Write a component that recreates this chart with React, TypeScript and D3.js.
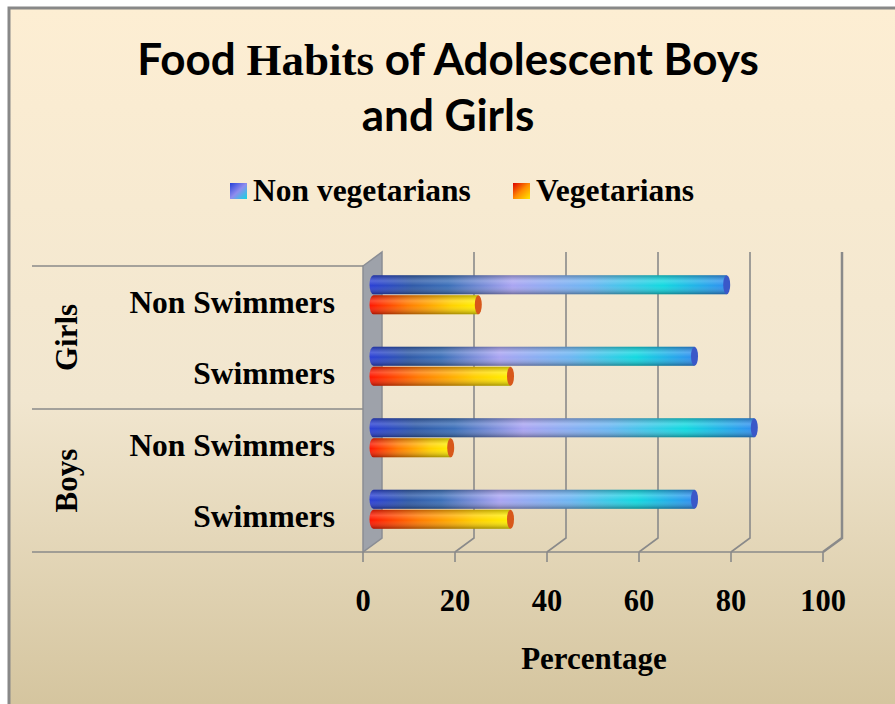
import React, { useEffect, useRef } from 'react';
import * as d3 from 'd3';

const categoryLabels = ['Non Swimmers', 'Swimmers', 'Non Swimmers', 'Swimmers'];
const groupLabels = ['Girls', 'Boys'];
const nonVegetarians = [77, 70, 83, 70];
const vegetarians = [23, 30, 17, 30];
const xTicks = [0, 20, 40, 60, 80, 100];
const seriesNames = ['Non vegetarians', 'Vegetarians'];

const W = 895;
const H = 704;

const App = () => {
  const ref = useRef<SVGSVGElement>(null);

  useEffect(() => {
    if (!ref.current) return;
    const svg = d3.select(ref.current);
    svg.selectAll('*').remove();

    const serif = '"Liberation Serif", "Times New Roman", serif';
    const sans = 'Lato, "Open Sans", sans-serif';
    const gridColor = '#8a8a8a';

    const defs = svg.append('defs');
    const bg = defs.append('linearGradient').attr('id', 'bg').attr('x1', 0).attr('y1', 0).attr('x2', 0).attr('y2', 1);
    bg.append('stop').attr('offset', '0%').attr('stop-color', '#fdeed3');
    bg.append('stop').attr('offset', '55%').attr('stop-color', '#f1e6cf');
    bg.append('stop').attr('offset', '100%').attr('stop-color', '#d3c39c');

    const addGrad = (id: string, stops: [number, string][], x2 = 1, y2 = 0) => {
      const g = defs.append('linearGradient').attr('id', id)
        .attr('x1', 0).attr('y1', 0).attr('x2', x2).attr('y2', y2);
      stops.forEach(([o, c]) => g.append('stop').attr('offset', `${o}%`).attr('stop-color', c));
    };
    addGrad('blueBar', [[0, '#2a3fd6'], [12, '#2f5aa8'], [22, '#3b6fb8'], [40, '#a9a4f2'], [62, '#6cb6f2'], [82, '#12d9e0'], [100, '#2f8ef0']]);
    addGrad('redBar', [[0, '#ff1500'], [35, '#ff7a00'], [75, '#ffd000'], [100, '#fff000']]);
    addGrad('blueKey', [[0, '#2540d8'], [50, '#8f8cee'], [100, '#10d6e0']], 1, 1);
    addGrad('redKey', [[0, '#dd0000'], [50, '#ff8a00'], [100, '#ffe800']], 1, 1);

    const shade = defs.append('linearGradient').attr('id', 'shade').attr('x1', 0).attr('y1', 0).attr('x2', 0).attr('y2', 1);
    shade.append('stop').attr('offset', '0%').attr('stop-color', '#000').attr('stop-opacity', 0.25);
    shade.append('stop').attr('offset', '30%').attr('stop-color', '#fff').attr('stop-opacity', 0.2);
    shade.append('stop').attr('offset', '55%').attr('stop-color', '#fff').attr('stop-opacity', 0);
    shade.append('stop').attr('offset', '100%').attr('stop-color', '#000').attr('stop-opacity', 0.35);

    // background and frame
    svg.append('rect').attr('width', W).attr('height', H).attr('fill', '#fff');
    svg.append('rect').attr('x', 9).attr('y', 8).attr('width', W + 10).attr('height', H + 10)
      .attr('fill', 'url(#bg)').attr('stroke', '#888').attr('stroke-width', 3);

    // title
    const title = svg.append('text').attr('text-anchor', 'middle').attr('font-family', sans)
      .attr('font-weight', 700).attr('font-size', 44).attr('fill', '#000');
    const line1 = title.append('tspan').attr('x', 448).attr('y', 75);
    line1.append('tspan').text('Food ');
    line1.append('tspan').attr('font-family', serif).attr('font-size', 45).text('Habits');
    line1.append('tspan').text(' of Adolescent Boys');
    title.append('tspan').attr('x', 448).attr('y', 131).text('and Girls');

    // legend
    const legend = [
      { x: 230, fill: 'url(#blueKey)', label: seriesNames[0] },
      { x: 513, fill: 'url(#redKey)', label: seriesNames[1] },
    ];
    legend.forEach(l => {
      svg.append('rect').attr('x', l.x).attr('y', 183).attr('width', 17).attr('height', 16).attr('fill', l.fill);
      svg.append('text').attr('x', l.x + 23).attr('y', 201).attr('font-family', serif).attr('font-weight', 700)
        .attr('font-size', 31.5).text(l.label);
    });

    // scales
    const x = d3.scaleLinear().domain([0, 100]).range([363, 823]);
    const y = d3.scaleBand<number>().domain(d3.range(categoryLabels.length)).range([266, 552]);
    const depth = { dx: 19, dy: -14 };
    const yTop = y.range()[0];
    const yBot = y.range()[1];

    // side wall
    svg.append('path')
      .attr('d', `M${x(0)},${yTop}L${x(0) + depth.dx},${yTop + depth.dy}L${x(0) + depth.dx},${yBot + depth.dy}L${x(0)},${yBot}Z`)
      .attr('fill', '#9ea2aa').attr('stroke', '#8a8d94').attr('stroke-width', 1.5);

    // back gridlines, floor links, ticks
    xTicks.forEach(t => {
      const bx = x(t) + depth.dx;
      if (t > 0) {
        svg.append('path')
          .attr('d', `M${bx},${yTop + depth.dy}L${bx},${yBot + depth.dy}L${x(t)},${yBot}`)
          .attr('fill', 'none').attr('stroke', gridColor).attr('stroke-width', t === 100 ? 2.5 : 1.6);
      }
      svg.append('line').attr('x1', x(t)).attr('x2', x(t)).attr('y1', yBot).attr('y2', yBot + 10)
        .attr('stroke', gridColor).attr('stroke-width', 1.6);
      svg.append('text').attr('x', x(t)).attr('y', 611).attr('text-anchor', 'middle')
        .attr('font-family', serif).attr('font-weight', 700).attr('font-size', 30.5).text(t);
    });
    svg.append('line').attr('x1', x(0)).attr('x2', x(100)).attr('y1', yBot).attr('y2', yBot)
      .attr('stroke', gridColor).attr('stroke-width', 1.6);

    // category and group dividers
    [yTop, (yTop + yBot) / 2, yBot].forEach(v => {
      svg.append('line').attr('x1', 32).attr('x2', x(0)).attr('y1', v).attr('y2', v)
        .attr('stroke', gridColor).attr('stroke-width', 1.6);
    });

    categoryLabels.forEach((c, i) => {
      svg.append('text').attr('x', 335).attr('y', (y(i) as number) + y.bandwidth() / 2 + 11)
        .attr('text-anchor', 'end').attr('font-family', serif).attr('font-weight', 700)
        .attr('font-size', 31.5).text(c);
    });
    groupLabels.forEach((g, i) => {
      const cy = yTop + (i + 0.5) * (yBot - yTop) / 2;
      svg.append('text').attr('transform', `translate(77,${cy}) rotate(-90)`)
        .attr('text-anchor', 'middle').attr('font-family', serif).attr('font-weight', 700)
        .attr('font-size', 31).text(g);
    });

    // cylinders
    const bars = svg.append('g').attr('transform', `translate(${depth.dx / 2},${depth.dy / 2})`);
    const barH = 19;
    const drawBar = (v: number, top: number, fill: string, cap: string) => {
      const x0 = x(0) - 3;
      const x1 = x(v);
      const r = 4;
      const d = `M${x0 + r},${top}L${x1},${top}L${x1},${top + barH}L${x0 + r},${top + barH}`
        + `A${r},${barH / 2} 0 0 1 ${x0 + r},${top}Z`;
      bars.append('path').attr('d', d).attr('fill', fill);
      bars.append('path').attr('d', d).attr('fill', 'url(#shade)');
      bars.append('ellipse').attr('cx', x1).attr('cy', top + barH / 2).attr('rx', 3.5).attr('ry', barH / 2)
        .attr('fill', cap);
    };
    categoryLabels.forEach((_, i) => {
      const cy = (y(i) as number) + y.bandwidth() / 2;
      drawBar(nonVegetarians[i], cy - barH - 0.5, 'url(#blueBar)', '#3a58c8');
      drawBar(vegetarians[i], cy + 0.5, 'url(#redBar)', '#d8581a');
    });

    svg.append('text').attr('x', 594).attr('y', 669).attr('text-anchor', 'middle')
      .attr('font-family', serif).attr('font-weight', 700).attr('font-size', 31).text('Percentage');
  }, []);

  return <svg ref={ref} width={W} height={H} style={{ position: 'absolute', left: 0, top: 0 }} />;
};

export default App;
